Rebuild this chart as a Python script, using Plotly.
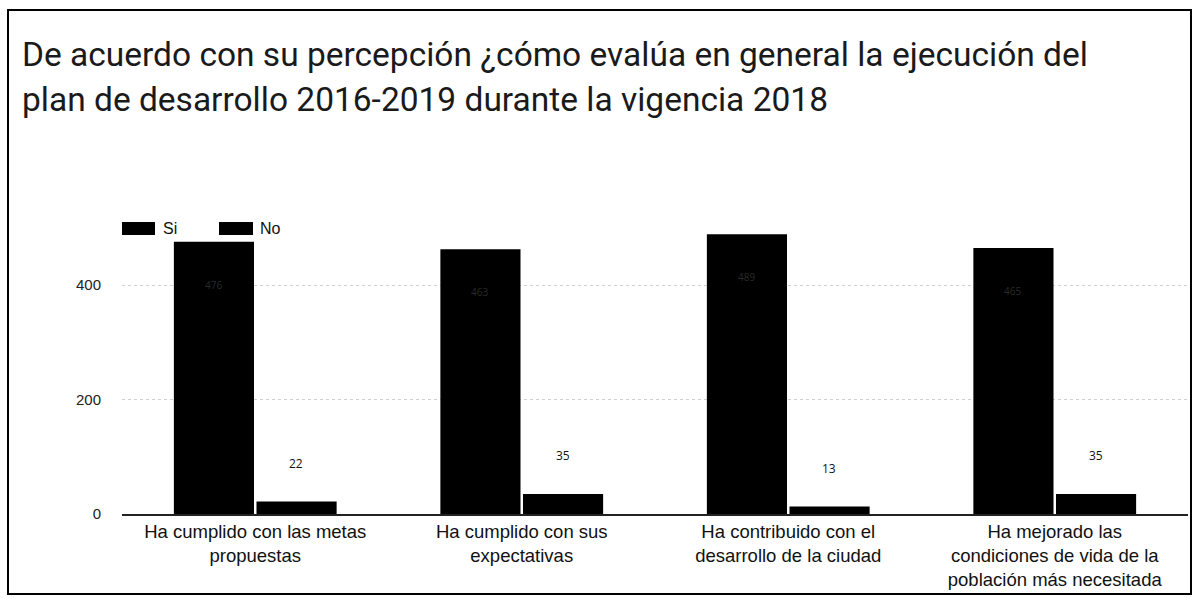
import plotly.graph_objects as go

categories = [
    "Ha cumplido con las metas<br>propuestas",
    "Ha cumplido con sus<br>expectativas",
    "Ha contribuido con el<br>desarrollo de la ciudad",
    "Ha mejorado las<br>condiciones de vida de la<br>población más necesitada",
]
series_names = ["Si", "No"]
si_values = [476, 463, 489, 465]
no_values = [22, 35, 13, 35]
y_ticks = [0, 200, 400]

W, H = 1194, 598
L, R, T, B = 122, 6, 228, 84
pw, ph = W - L - R, H - T - B

def px_x(x):
    return (x - L) / pw

def px_y(y):
    return (H - B - y) / ph

fig = go.Figure()
fig.add_trace(go.Bar(name=series_names[0], x=categories, y=si_values,
                     marker=dict(color="#000000", line=dict(width=0)), showlegend=False))
fig.add_trace(go.Bar(name=series_names[1], x=categories, y=no_values,
                     marker=dict(color="#000000", line=dict(width=0)), showlegend=False))

# faint labels inside the Si bars
for c, v in zip(categories, si_values):
    fig.add_annotation(x=c, y=v - 75, text=str(v), showarrow=False, xshift=-42,
                       font=dict(family="Open Sans", size=10, color="#2a2a2a"))
# labels above the No bars
for c, v in zip(categories, no_values):
    fig.add_annotation(x=c, y=v, text=str(v), showarrow=False, xshift=41, yshift=38,
                       font=dict(family="Open Sans", size=12, color="#111111"))

# title lines
fig.add_annotation(xref="paper", yref="paper", x=px_x(20), y=px_y(54), xanchor="left", yanchor="middle",
                   text="De acuerdo con su percepción ¿cómo evalúa en general la ejecución del",
                   showarrow=False, font=dict(family="Roboto", size=33.5, color="#1a1a1a"))
fig.add_annotation(xref="paper", yref="paper", x=px_x(20), y=px_y(99), xanchor="left", yanchor="middle",
                   text="plan de desarrollo 2016-2019 durante la vigencia 2018",
                   showarrow=False, font=dict(family="Roboto", size=33.5, color="#1a1a1a"))

# legend (drawn boxes + text)
legend_items = [(122, 155, series_names[0], 161), (219, 253, series_names[1], 258)]
for x0, x1, name, tx in legend_items:
    fig.add_shape(type="rect", xref="paper", yref="paper",
                  x0=px_x(x0), x1=px_x(x1), y0=px_y(235), y1=px_y(222),
                  line=dict(width=0), fillcolor="#000000")
    fig.add_annotation(xref="paper", yref="paper", x=px_x(tx), y=px_y(228.5), xanchor="left", yanchor="middle",
                       text=name, showarrow=False, font=dict(family="Liberation Sans", size=16, color="#111111"))

# frame
fig.add_shape(type="rect", xref="paper", yref="paper",
              x0=px_x(8), x1=px_x(1191), y0=px_y(594), y1=px_y(10),
              line=dict(color="#000000", width=2), fillcolor="rgba(0,0,0,0)", layer="above")

fig.update_layout(
    width=W, height=H,
    margin=dict(l=L, r=R, t=T, b=B),
    paper_bgcolor="white", plot_bgcolor="white",
    barmode="group", bargap=0.38, bargroupgap=0.03,
    showlegend=False,
    xaxis=dict(showline=True, linecolor="#222222", linewidth=2,
               tickfont=dict(family="Liberation Sans", size=18.5, color="#111111"),
               ticks="", showgrid=False),
    yaxis=dict(range=[0, 500], tickvals=y_ticks, showgrid=True, gridcolor="#d0d0d0", griddash="dot",
               zeroline=False, ticks="", ticklabelstandoff=20,
               tickfont=dict(family="Liberation Sans", size=15, color="#222222")),
)

fig.write_html("out.html", config={"displayModeBar": False},
               post_script="document.body.style.margin='0';document.body.style.overflow='hidden';")
